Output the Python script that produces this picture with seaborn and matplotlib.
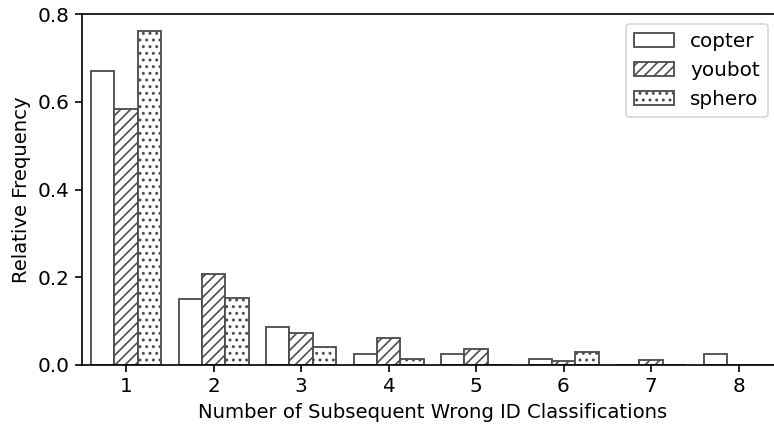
import matplotlib
matplotlib.use("Agg")
import matplotlib.pyplot as plt
import seaborn as sns
import pandas as pd

# Relative frequency of runs of consecutive wrong ID classifications
run_lengths = [1, 2, 3, 4, 5, 6, 7, 8]
copter = [0.669, 0.150, 0.087, 0.026, 0.026, 0.013, 0.0, 0.026]
youbot = [0.583, 0.207, 0.074, 0.062, 0.037, 0.008, 0.011, 0.0]
sphero = [0.761, 0.153, 0.042, 0.014, 0.0, 0.029, 0.0, 0.0]
robots = ["copter", "youbot", "sphero"]
hatches = ["", "////", "..."]

df = pd.DataFrame({
    "run": run_lengths * 3,
    "freq": copter + youbot + sphero,
    "robot": [r for r in robots for _ in run_lengths],
})

sns.set_style("ticks", rc={
    "text.color": "black", "axes.labelcolor": "black",
    "xtick.color": "black", "ytick.color": "black",
    "axes.edgecolor": "black",
})
plt.rcParams["font.family"] = ["DejaVu Sans"]
plt.rcParams["hatch.color"] = "0.2"
plt.rcParams["hatch.linewidth"] = 1.0

DPI = 120
W, H = 774, 426
fig = plt.figure(figsize=(W / DPI, H / DPI), dpi=DPI)
ax = fig.add_axes([82.25 / W, (H - 365) / H, 700 / W, 351 / H])

sns.barplot(data=df, x="run", y="freq", hue="robot", hue_order=robots,
            palette=["white"] * 3, edgecolor="0.3", linewidth=1.1,
            saturation=1, ax=ax, legend=True)

n = len(run_lengths)
for i, patch in enumerate(ax.patches[: n * 3]):
    patch.set_hatch(hatches[i // n])

ax.set_xlim(-0.5, 7.5)
ax.set_ylim(0, 0.8)
ax.set_yticks([0.0, 0.2, 0.4, 0.6, 0.8])
ax.set_xlabel("Number of Subsequent Wrong ID Classifications", fontsize=11.8)
ax.set_ylabel("Relative Frequency", fontsize=11.8)
ax.tick_params(labelsize=12, length=4, width=1.0)
for s in ax.spines.values():
    s.set_linewidth(1.0)

handles, labels = ax.get_legend_handles_labels()
for h, hatch in zip(handles, hatches):
    h.set_hatch(hatch)
leg = ax.legend(handles, labels, loc="upper right", fontsize=12,
                frameon=True, fancybox=True, bbox_to_anchor=(0.994, 1.0))
leg.get_frame().set_edgecolor("0.8")

fig.savefig("out.png", dpi=DPI)
